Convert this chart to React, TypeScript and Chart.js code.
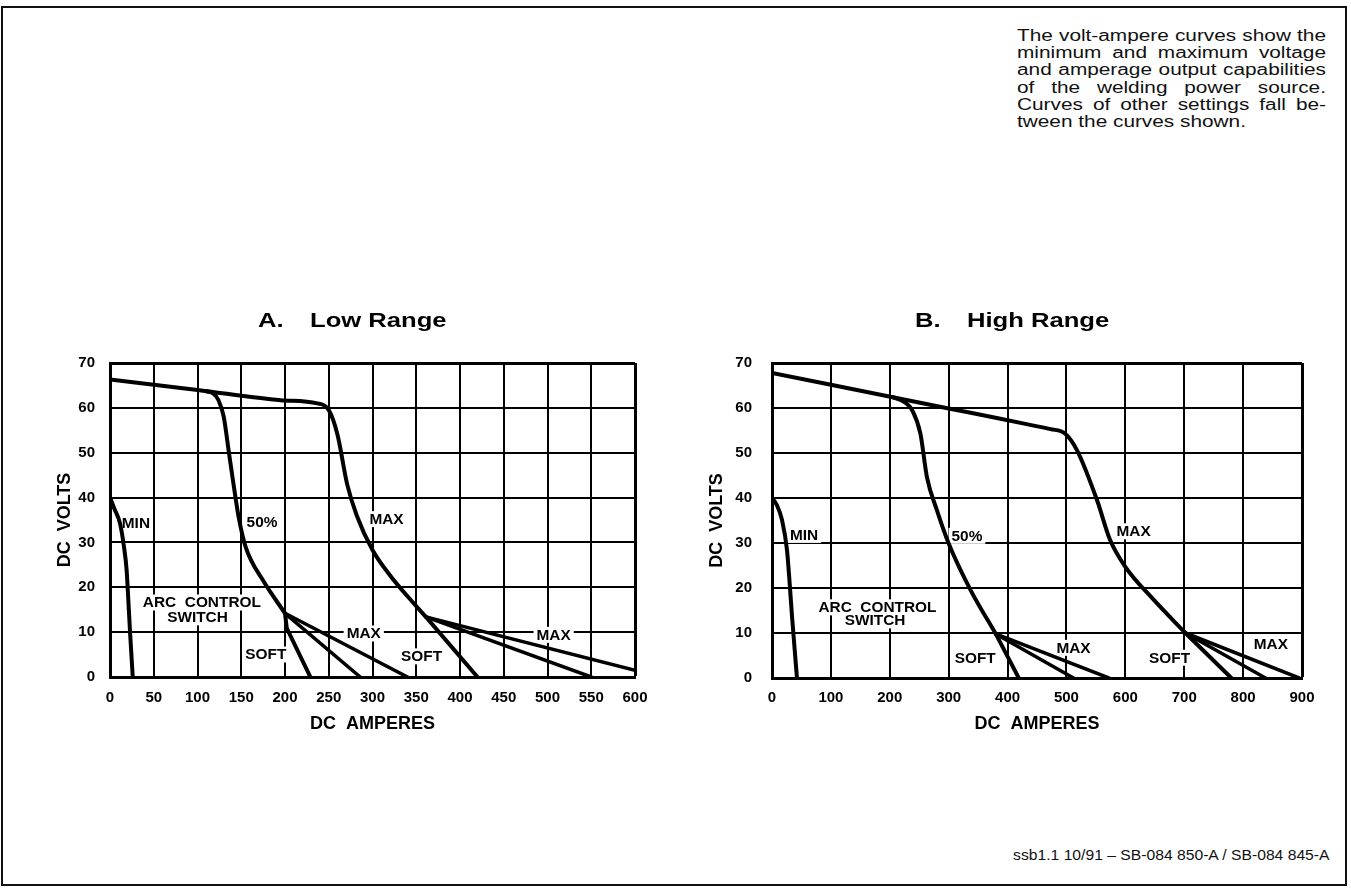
import React, { useEffect, useRef } from "react";
import { Chart, registerables } from "chart.js";

Chart.register(...registerables);

const FONT = '"Liberation Sans", Arial, Helvetica, sans-serif';

// ---------- A. Low Range ----------
const lowXTicksMax = 600;
const lowXStep = 50;
const lowMaxAmps = [0, 100, 195, 237, 250, 260, 271, 282, 300, 321, 340, 361];
const lowMaxVolts = [66.3, 64, 61.7, 61, 59.5, 54, 43, 36, 28.3, 22.4, 18, 13.4];
const lowSoft2Amps = [361, 420];
const lowSoft2Volts = [13.4, 0];
const low50Amps = [110, 118, 124, 130, 135.5, 141, 147, 155, 175, 200];
const low50Volts = [63.7, 63.2, 61.7, 58, 50.6, 43.2, 35.7, 29, 21.5, 14.2];
const lowSoft1Amps = [200, 202, 229];
const lowSoft1Volts = [14.2, 10.9, 0];
const lowMinAmps = [0, 5, 11.5, 16, 19, 21, 23, 26];
const lowMinVolts = [40, 37.5, 34.2, 29, 23.8, 17, 9.7, 0];
const lowArcMid1Amps = [200, 286];
const lowArcMid1Volts = [14.2, 0];
const lowArcMax1Amps = [200, 340];
const lowArcMax1Volts = [14.2, 0];
const lowArcMid2Amps = [361, 550];
const lowArcMid2Volts = [13.4, 0];
const lowArcMax2Amps = [361, 600];
const lowArcMax2Volts = [13.4, 1.5];
const lowLabelTexts = ["MIN", "50%", "MAX", "ARC  CONTROL", "SWITCH", "SOFT", "MAX", "SOFT", "MAX"];
const lowLabelAmps = [29.6, 173.7, 316, 105, 100, 178, 290, 356, 507];
const lowLabelVolts = [34.3, 34.5, 35.2, 16.6, 13.3, 5, 9.7, 4.6, 9.4];

// ---------- B. High Range ----------
const highXTicksMax = 900;
const highXStep = 100;
const highMaxAmps = [0, 300, 388, 440, 473, 498, 518, 552, 574, 600, 648, 702];
const highMaxVolts = [67.8, 59.9, 57.6, 56.2, 55.3, 54.3, 50.6, 39.5, 30.7, 24.7, 17.4, 10];
const highSoft2Amps = [702, 780];
const highSoft2Volts = [10, 0];
const high50Amps = [205, 225, 238, 252, 263, 280, 300, 337, 380];
const high50Volts = [62.4, 61.3, 59.5, 54.3, 44.7, 37.3, 29.9, 19.6, 9.8];
const highSoft1Amps = [380, 419];
const highSoft1Volts = [9.8, 0];
const highMinAmps = [0, 8, 17, 25.5, 30, 34, 42.4];
const highMinVolts = [40, 38.5, 35.1, 28.4, 21, 13.7, 0];
const highArcMid1Amps = [380, 512];
const highArcMid1Volts = [9.8, 0];
const highArcMax1Amps = [380, 572];
const highArcMax1Volts = [9.8, 0];
const highArcMid2Amps = [702, 838];
const highArcMid2Volts = [10, 0];
const highArcMax2Amps = [702, 895];
const highArcMax2Volts = [10, 0];
const highLabelTexts = ["MIN", "50%", "MAX", "ARC  CONTROL", "SWITCH", "SOFT", "MAX", "SOFT", "MAX"];
const highLabelAmps = [54.5, 331, 614, 179, 175, 345, 512, 675, 847];
const highLabelVolts = [31.8, 31.6, 32.6, 15.7, 12.8, 4.4, 6.7, 4.5, 7.6];

const yTicksMax = 70;
const yStep = 10;

const paragraphLines = [
  "The volt-ampere curves show the",
  "minimum and maximum voltage",
  "and amperage output capabilities",
  "of the welding power source.",
  "Curves of other settings fall be-",
  "tween the curves shown.",
];
const footerText = "ssb1.1 10/91 \u2013 SB-084 850-A / SB-084 845-A";

function toPoints(a: number[], v: number[]) {
  return a.map((x, i) => ({ x, y: v[i] }));
}

function ds(a: number[], v: number[], smooth: boolean, width = 4) {
  return {
    data: toPoints(a, v),
    borderColor: "#000",
    borderWidth: width,
    pointRadius: 0,
    pointHoverRadius: 0,
    fill: false,
    tension: 0,
    cubicInterpolationMode: smooth ? "monotone" : "default",
    borderCapStyle: "round",
    borderJoinStyle: "round",
  };
}

function makeLabelPlugin(
  texts: string[],
  amps: number[],
  volts: number[],
  prefix: string,
  main: string,
  titleLeft: number,
  titleY: number
) {
  return {
    id: "curveLabels",
    beforeDatasetsDraw(chart: any) {
      const { ctx, scales } = chart;
      const x = scales.x;
      const y = scales.y;
      const stretch = 1.1;
      ctx.save();
      ctx.font = `bold 14px ${FONT}`;
      ctx.textAlign = "center";
      ctx.textBaseline = "middle";
      texts.forEach((t, i) => {
        const px = x.getPixelForValue(amps[i]);
        const py = y.getPixelForValue(volts[i]);
        const w = ctx.measureText(t).width * stretch;
        ctx.fillStyle = "#fff";
        ctx.fillRect(px - w / 2 - 3, py - 8, w + 6, 16);
        ctx.fillStyle = "#000";
        ctx.save();
        ctx.translate(px, py);
        ctx.scale(stretch, 1);
        ctx.fillText(t, 0, 1);
        ctx.restore();
      });
      ctx.restore();
    },
    afterDraw(chart: any) {
      const { ctx, chartArea } = chart;
      ctx.save();
      ctx.font = `bold 20px ${FONT}`;
      ctx.textAlign = "left";
      ctx.textBaseline = "middle";
      ctx.fillStyle = "#000";
      const s = 1.28;
      ctx.save();
      ctx.translate(chartArea.left + titleLeft, titleY);
      ctx.scale(s, 1);
      ctx.fillText(prefix, 0, 0);
      ctx.fillText(main, 52 / s, 0);
      ctx.restore();
      ctx.restore();
    },
  };
}

function makeConfig(p: any) {
  const tickFont = { family: FONT, size: 15, weight: "bold" as const };
  const titleFont = { family: FONT, size: 18, weight: "bold" as const };
  return {
    type: "line",
    data: { datasets: p.datasets },
    options: {
      responsive: false,
      animation: false,
      events: [],
      layout: { padding: { top: 83, right: p.padRight, left: 0, bottom: 0 } },
      plugins: {
        legend: { display: false },
        tooltip: { enabled: false },
        title: { display: false },
      },
      scales: {
        x: {
          type: "linear",
          min: 0,
          max: p.xMax,
          afterFit: (scale: any) => {
            scale.height = p.xHeight;
          },
          ticks: {
            stepSize: p.xStep,
            autoSkip: false,
            maxRotation: 0,
            color: "#000",
            font: tickFont,
            padding: p.xTickPad,
          },
          grid: {
            color: "#000",
            drawTicks: false,
            lineWidth: (c: any) => (c.tick && c.tick.value === p.xMax ? 3 : 2),
          },
          border: { display: true, color: "#000", width: 3 },
          title: {
            display: true,
            text: "DC  AMPERES",
            color: "#000",
            font: titleFont,
            padding: { top: 0, bottom: 5 },
          },
        },
        y: {
          type: "linear",
          min: 0,
          max: yTicksMax,
          afterFit: (scale: any) => {
            scale.width = p.yWidth;
          },
          ticks: {
            stepSize: yStep,
            color: "#000",
            font: tickFont,
            padding: p.yTickPad,
          },
          grid: {
            color: "#000",
            drawTicks: false,
            lineWidth: (c: any) => (c.tick && c.tick.value === yTicksMax ? 3 : 2),
          },
          border: { display: true, color: "#000", width: 3 },
          title: {
            display: true,
            text: "DC  VOLTS",
            color: "#000",
            font: titleFont,
            padding: { top: p.yTitlePad, bottom: 0 },
          },
        },
      },
    },
    plugins: [p.plugin],
  };
}

const configA = () =>
  makeConfig({
    xMax: lowXTicksMax,
    xStep: lowXStep,
    padRight: 45,
    xHeight: 63,
    yWidth: 110,
    xTickPad: 12,
    yTickPad: 15,
    yTitlePad: 54,
    datasets: [
      ds(lowMaxAmps, lowMaxVolts, true),
      ds(lowSoft2Amps, lowSoft2Volts, false),
      ds(low50Amps, low50Volts, true),
      ds(lowSoft1Amps, lowSoft1Volts, false),
      ds(lowMinAmps, lowMinVolts, true),
      ds(lowArcMid1Amps, lowArcMid1Volts, false, 3.5),
      ds(lowArcMax1Amps, lowArcMax1Volts, false, 3.5),
      ds(lowArcMid2Amps, lowArcMid2Volts, false, 3.5),
      ds(lowArcMax2Amps, lowArcMax2Volts, false, 3.5),
    ],
    plugin: makeLabelPlugin(lowLabelTexts, lowLabelAmps, lowLabelVolts, "A.", "Low Range", 148, 41),
  });

const configB = () =>
  makeConfig({
    xMax: highXTicksMax,
    xStep: highXStep,
    padRight: 49,
    xHeight: 62,
    yWidth: 92,
    xTickPad: 11,
    yTickPad: 20,
    yTitlePad: 26,
    datasets: [
      ds(highMaxAmps, highMaxVolts, true),
      ds(highSoft2Amps, highSoft2Volts, false),
      ds(high50Amps, high50Volts, true),
      ds(highSoft1Amps, highSoft1Volts, false),
      ds(highMinAmps, highMinVolts, true),
      ds(highArcMid1Amps, highArcMid1Volts, false, 3.5),
      ds(highArcMax1Amps, highArcMax1Volts, false, 3.5),
      ds(highArcMid2Amps, highArcMid2Volts, false, 3.5),
      ds(highArcMax2Amps, highArcMax2Volts, false, 3.5),
    ],
    plugin: makeLabelPlugin(highLabelTexts, highLabelAmps, highLabelVolts, "B.", "High Range", 143, 41),
  });

export default function App() {
  const refA = useRef<HTMLCanvasElement>(null);
  const refB = useRef<HTMLCanvasElement>(null);

  useEffect(() => {
    const a = new Chart(refA.current as HTMLCanvasElement, configA() as any);
    const b = new Chart(refB.current as HTMLCanvasElement, configB() as any);
    return () => {
      a.destroy();
      b.destroy();
    };
  }, []);

  const pScale = 1.3;
  const pWidth = 309 / pScale;

  return (
    <div
      style={{
        position: "absolute",
        left: 0,
        top: 0,
        width: 1351,
        height: 888,
        background: "#fff",
        overflow: "hidden",
        fontFamily: FONT,
        color: "#111",
      }}
    >
      <div
        style={{
          position: "absolute",
          left: 1,
          top: 6,
          width: 1346,
          height: 880,
          border: "2px solid #111",
          boxSizing: "border-box",
        }}
      />
      <div
        style={{
          position: "absolute",
          left: 1017,
          top: 27,
          width: pWidth,
          transform: `scaleX(${pScale})`,
          transformOrigin: "left top",
          fontSize: 16,
        }}
      >
        {paragraphLines.map((line, i) => {
          const last = i === paragraphLines.length - 1;
          return (
            <div
              key={i}
              style={{
                height: 17.2,
                lineHeight: "17.2px",
                whiteSpace: "nowrap",
                display: "flex",
                justifyContent: last ? "flex-start" : "space-between",
              }}
            >
              {last ? (
                <span>{line}</span>
              ) : (
                line.split(" ").map((w, j) => <span key={j}>{w}</span>)
              )}
            </div>
          );
        })}
      </div>
      <canvas
        ref={refA}
        width={680}
        height={460}
        style={{ position: "absolute", left: 0, top: 280, width: 680, height: 460 }}
      />
      <canvas
        ref={refB}
        width={671}
        height={460}
        style={{ position: "absolute", left: 680, top: 280, width: 671, height: 460 }}
      />
      <div
        style={{
          position: "absolute",
          right: 21,
          top: 847,
          fontSize: 14,
          lineHeight: "16px",
          whiteSpace: "nowrap",
          transform: "scaleX(1.12)",
          transformOrigin: "right center",
        }}
      >
        {footerText}
      </div>
    </div>
  );
}
